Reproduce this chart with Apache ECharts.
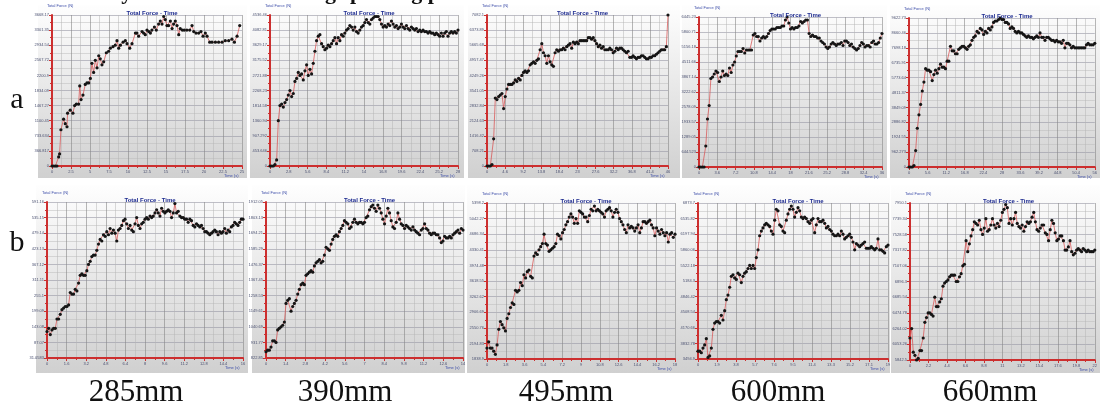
<!DOCTYPE html>
<html><head><meta charset="utf-8">
<script src="https://cdn.jsdelivr.net/npm/echarts@6/dist/echarts.min.js"></script>
<style>html,body{margin:0;padding:0;background:#fff}#c{width:1100px;height:412px}</style>
</head><body><div id="c"></div>
<script>
// ---- DATA (force as % of y-axis range, time as % of x-axis range) ----
const captionText = 'Analysis of the force during spinning process';
const columnLabels = ['285mm','390mm','495mm','600mm','660mm'];
const rowLabels = ['a','b'];

const forceA285 = [[0,0],[0.9,0],[1.8,0],[2.6,0],[3.5,6],[4,8],[4.7,24],[6.1,31],[7,28],[7.9,26],[8.2,35],[9.6,37],[11,35],[11.9,40],[12.8,41],[14,41],[14.6,53],[15.3,44],[16.3,47],[17.5,54],[18.4,55],[19.3,55],[20.2,58],[21,68],[21.9,62],[22.8,70],[23.7,65],[24.6,73],[25.4,71],[26.3,67],[27.2,69],[28.6,75],[29.8,76],[30.7,78],[32.1,79],[33.3,80],[34.2,83],[35.1,78],[36,80],[37.4,82],[38.6,83],[39.5,81],[40.9,78],[42.1,81],[43.9,88],[44.7,88],[45.6,86],[47.4,89],[48.2,88],[49.1,87],[50,90],[51,89],[51.8,88],[52.6,90],[53.9,92],[54.9,90],[56.1,94],[57,96],[57.9,94],[58.8,99],[59.6,97],[60.5,93],[61.4,93],[62.3,96],[63.2,91],[64,94],[64.9,96],[65.8,93],[66.7,87],[67.5,91],[68.6,90],[69.6,90],[71,90],[72.5,90],[73.7,93],[74.6,89],[75.8,88],[77.2,88],[78.4,89],[79.5,86],[80.7,88],[81.6,86],[83,82],[84.2,82],[86,82],[87.7,82],[89.5,82],[91.2,83],[93,83],[94.7,84],[96,82],[97.4,86],[98.8,93]];
const forceA390 = [0,0,0,1,4,30,40,41,39,42,44,47,50,46,48,56,58,62,60,61,57,63,67,60,64,61,68,76,83,86,87,81,79,77,78,80,79,81,83,85,81,85,83,87,86,88,90,91,93,92,90,92,89,88,90,92,93,95,97,95,94,97,98,99,99,99,97,94,92,93,92,94,93,96,94,92,93,91,92,94,92,91,93,91,90,92,91,90,91,89,90,89,90,89,89,88,89,88,88,87,88,87,86,88,86,88,89,86,88,89,88,89,88,90];
const forceA495 = [0,0,0,1,18,45,44,46,47,48,38,46,51,54,54,54,55,57,56,58,57,60,62,63,62,63,67,68,69,68,70,71,77,81,75,73,68,73,69,67,66,75,77,76,77,77,78,77,79,80,81,78,82,81,82,81,83,83,83,83,83,85,85,84,85,83,81,79,80,78,79,77,77,77,78,77,75,76,78,77,78,78,77,76,75,76,72,72,73,72,71,72,72,73,73,72,71,71,72,72,73,73,74,75,76,77,77,77,79,100];
const forceA600 = [0,0,0,0,14,32,41,59,60,62,64,63,57,60,64,61,62,61,66,63,68,70,74,77,77,77,79,76,78,78,78,78,88,89,87,87,84,86,87,86,87,89,91,92,92,92,93,93,93,94,94,98,100,96,92,93,92,93,93,94,97,96,97,98,98,89,87,88,87,87,86,86,84,83,82,80,79,80,82,83,82,81,82,82,83,81,84,84,83,81,82,80,79,78,79,81,83,82,80,81,81,80,83,84,82,82,83,86,89];
const forceA660 = [0,0,0,1,11,26,35,42,51,57,66,65,65,64,58,62,65,63,66,69,67,67,66,71,71,81,78,78,76,76,79,80,81,81,80,79,81,82,85,87,88,91,90,93,92,89,91,90,93,92,94,97,98,98,99,100,99,99,97,97,96,93,94,93,91,90,91,90,90,89,88,87,88,87,87,86,87,88,87,90,87,87,85,87,87,86,85,85,84,85,84,84,83,85,80,83,83,82,80,81,80,80,80,80,80,80,80,82,83,82,82,82,83];
const forceB285 = [17,19,15,18,19,19,25,25,28,31,32,33,33,34,42,41,41,44,43,48,53,54,53,53,56,60,62,65,66,66,69,73,76,75,79,78,81,79,83,80,82,80,75,82,83,85,88,89,86,83,85,82,81,86,90,85,83,86,87,89,90,89,91,90,91,93,95,93,91,96,94,93,94,95,94,90,93,99,93,94,91,90,90,89,89,87,89,88,85,84,86,85,84,85,83,81,81,80,79,80,81,82,81,79,81,80,81,83,80,82,81,84,85,87,86,85,87,89,89];
const forceB390 = [4,5,5,7,11,11,10,18,19,20,21,23,35,37,38,30,33,35,37,41,44,47,48,47,53,54,55,56,55,59,61,62,63,61,62,66,71,70,69,73,76,78,79,78,81,83,85,88,87,86,83,84,87,89,87,86,87,87,86,87,90,91,95,97,98,96,94,98,96,93,89,86,91,96,93,88,84,83,87,93,89,86,85,83,85,84,83,82,84,82,81,80,79,82,83,86,83,82,80,79,80,80,79,79,77,74,75,78,77,77,78,77,79,80,81,82,80,83,82];
const forceB495 = [7,11,7,7,5,3,9,19,24,22,20,18,26,29,33,36,35,44,43,44,49,47,54,52,56,57,53,52,66,68,67,70,72,74,80,74,73,69,70,71,72,74,80,79,77,81,83,86,88,91,93,91,87,90,87,95,94,93,91,91,88,92,96,95,98,95,96,95,94,93,91,95,96,97,95,91,94,96,94,90,88,86,83,81,86,84,85,84,82,84,86,81,84,88,88,87,88,89,86,84,79,84,82,80,83,81,79,81,75,80,81,78,80];
const forceB600 = [5,5,4,7,9,13,1,2,7,19,23,24,24,23,28,25,31,38,41,46,53,54,52,51,55,54,49,53,55,56,58,60,58,60,58,65,70,79,82,84,86,87,86,85,82,80,89,96,95,86,85,82,81,89,93,96,98,96,91,94,97,95,91,90,91,90,88,87,89,90,81,86,90,88,88,89,87,84,85,83,82,80,79,79,80,79,82,80,77,78,79,80,78,75,70,74,73,72,73,74,75,71,71,71,72,71,70,71,77,70,70,69,68,72,73];
const forceB660 = [14,20,5,3,0,1,6,6,14,24,27,30,30,29,28,40,34,34,37,39,47,49,50,51,53,54,54,54,50,50,53,55,60,61,76,69,74,79,83,88,87,86,89,83,80,84,90,82,83,86,90,86,84,87,85,89,94,96,99,97,87,90,86,90,94,87,85,84,86,82,85,88,87,88,91,94,88,83,82,84,86,86,81,80,76,83,89,87,81,76,77,79,79,76,70,70,72,76,69,67,68,70,71,70,69,71,70,69,70,69,69,69,70];

const yTicksA285 = ['0','366.817','733.634','1100.45','1467.27','1834.09','2200.9','2567.72','2934.54','3301.35','3668.17'];
const yTicksA390 = ['0','453.646','907.292','1360.94','1814.58','2268.23','2721.88','3175.52','3629.17','4082.81','4536.46'];
const yTicksA495 = ['0','708.21','1416.42','2124.63','2832.84','3541.05','4249.26','4957.47','5665.68','6373.89','7082.1'];
const yTicksA600 = ['0','644.523','1289.05','1933.57','2578.09','3222.62','3867.14','4511.66','5156.18','5800.71','6445.23'];
const yTicksA660 = ['0','962.273','1924.55','2886.82','3849.09','4811.37','5773.64','6735.91','7698.18','8660.46','9622.73'];
const yTicksB285 = ['31.0583','87.07','143.08','199.09','255.1','311.11','367.12','423.13','479.14','535.15','591.16'];
const yTicksB390 = ['822.85','931.77','1040.69','1149.61','1258.53','1367.45','1476.37','1585.29','1694.21','1803.13','1912.05'];
const yTicksB495 = ['1838.9','2194.83','2550.76','2906.69','3262.62','3618.55','3974.48','4330.41','4686.34','5042.27','5398.2'];
const yTicksB600 = ['3494.9','3832.78','4170.66','4508.54','4846.42','5184.3','5522.18','5860.06','6197.94','6535.82','6873.7'];
const yTicksB660 = ['5842.5','6053.26','6264.02','6474.78','6685.54','6896.3','7107.06','7317.82','7528.58','7739.34','7950.1'];

const xTicksA285 = ['0','2.5','5','7.5','10','12.5','15','17.5','20','22.5','25'];
const xTicksA390 = ['0','2.8','5.6','8.4','11.2','14','16.8','19.6','22.4','25.2','28'];
const xTicksA495 = ['0','4.6','9.2','13.8','18.4','23','27.6','32.2','36.8','41.4','46'];
const xTicksA600 = ['0','3.6','7.2','10.8','14.4','18','21.6','25.2','28.8','32.4','36'];
const xTicksA660 = ['0','5.6','11.2','16.8','22.4','28','33.6','39.2','44.8','50.4','56'];
const xTicksB285 = ['0','1.6','3.2','4.8','6.4','8','9.6','11.2','12.8','14.4','16'];
const xTicksB390 = ['0','1.4','2.8','4.2','5.6','7','8.4','9.8','11.2','12.6','14'];
const xTicksB495 = ['0','1.8','3.6','5.4','7.2','9','10.8','12.6','14.4','16.2','18'];
const xTicksB600 = ['0','1.9','3.8','5.7','7.6','9.5','11.4','13.3','15.2','17.1','19'];
const xTicksB660 = ['0','2.2','4.4','6.6','8.8','11','13.2','15.4','17.6','19.8','22'];

const panels = [
  {force: forceA285, yT: yTicksA285, xT: xTicksA285},
  {force: forceA390, yT: yTicksA390, xT: xTicksA390},
  {force: forceA495, yT: yTicksA495, xT: xTicksA495},
  {force: forceA600, yT: yTicksA600, xT: xTicksA600},
  {force: forceA660, yT: yTicksA660, xT: xTicksA660},
  {force: forceB285, yT: yTicksB285, xT: xTicksB285},
  {force: forceB390, yT: yTicksB390, xT: xTicksB390},
  {force: forceB495, yT: yTicksB495, xT: xTicksB495},
  {force: forceB600, yT: yTicksB600, xT: xTicksB600},
  {force: forceB660, yT: yTicksB660, xT: xTicksB660}
];

// ---- LAYOUT (pixels) ----
const cards = [[38,5,209,173],[250,5,214,173],[468,5,212,173],[682,5,205,173],[890,5,210,173],
               [36,185,212,188],[252,185,213,188],[467,185,214,188],[679,185,211,188],[891,185,209,188]];
const plots = [[52,15,190,151],[270,15,188,151],[487,15,181,151],[699,17,183,150],[909,18,186,149],
               [47,202,196,156],[266,202,197,156],[487,203,188,156],[698,203,190,156],[910,203,187,157]];
const colCenters = [136,345,566,778,990];

const RED = '#cc2f2f';
const grid = [], xAxis = [], yAxis = [], series = [], title = [], graphic = [];

cards.forEach((c) => {
  graphic.push({type:'rect', z:-100, shape:{x:c[0], y:c[1], width:c[2], height:c[3]},
    style:{fill:new echarts.graphic.LinearGradient(0,0,0,1,[{offset:0,color:'#fefefe'},{offset:1,color:'#d0d0d0'}])}, silent:true});
});

panels.forEach((p, i) => {
  const g = plots[i];
  grid.push({left:g[0], top:g[1], width:g[2], height:g[3], containLabel:false});
  xAxis.push({type:'value', gridIndex:i, min:0, max:100, interval:10,
    axisLine:{show:true, onZero:false, lineStyle:{color:RED, width:2}},
    axisTick:{show:true, length:3, lineStyle:{color:RED, width:1}},
    minorTick:{show:true, splitNumber:2, length:2, lineStyle:{color:RED}},
    splitLine:{show:true, lineStyle:{color:'#868686', width:0.6}},
    minorSplitLine:{show:true, lineStyle:{color:'#b4b4b4', width:0.5}},
    axisLabel:{fontSize:4, color:'#4a5070', margin:4, fontFamily:'Liberation Sans',
      formatter:(v) => p.xT[Math.round(v/10)]}
  });
  yAxis.push({type:'value', gridIndex:i, min:0, max:100, interval:10,
    axisLine:{show:true, onZero:false, lineStyle:{color:RED, width:2}},
    axisTick:{show:true, length:3, lineStyle:{color:RED, width:1}},
    minorTick:{show:true, splitNumber:2, length:2, lineStyle:{color:RED}},
    splitLine:{show:true, lineStyle:{color:'#9797a4', width:0.6}},
    minorSplitLine:{show:true, lineStyle:{color:'#bbbbbb', width:0.5}},
    axisLabel:{fontSize:4, color:'#4a5070', margin:3, fontFamily:'Liberation Sans',
      formatter:(v) => p.yT[Math.round(v/10)]}
  });
  const d = p.force;
  const pts = Array.isArray(d[0]) ? d : d.map((v, k) => [k * 100 / (d.length - 1), v]);
  series.push({type:'line', xAxisIndex:i, yAxisIndex:i, data:pts, symbol:'circle', symbolSize:3.2,
    showSymbol:true, itemStyle:{color:'#151515'}, lineStyle:{color:'#d85a5a', width:0.8},
    animation:false, silent:true});
  title.push({text:'Total Force - Time', left:g[0] + g[2]/2, top:g[1] - 10, textAlign:'center',
    textStyle:{fontSize:6, fontWeight:'bold', color:'#1d2b8f', fontFamily:'Liberation Sans'}});
  graphic.push({type:'text', left:g[0] - 5, top:g[1] - 11, style:{text:'Total Force (N)', fontSize:4,
    fill:'#3b4ca8', fontFamily:'Liberation Sans'}, silent:true});
  graphic.push({type:'text', left:g[0] + g[2] - 18, top:g[1] + g[3] + 8, style:{text:'Time (s)', fontSize:4,
    fill:'#3b4ca8', fontFamily:'Liberation Sans'}, silent:true});
});

// cut-off caption at the very top (only the lower part of its glyphs is visible)
graphic.push({type:'text', x:76, y:4, z:50, style:{text:captionText, fontSize:22, fontWeight:'bold',
  fill:'#111', fontFamily:'Liberation Serif', textAlign:'left', textVerticalAlign:'bottom'}, silent:true});

columnLabels.forEach((t, k) => {
  graphic.push({type:'text', x:colCenters[k], y:393, style:{text:t, fontSize:31, fill:'#111',
    fontFamily:'Liberation Serif', textAlign:'center', textVerticalAlign:'middle'}, silent:true});
});
graphic.push({type:'text', x:17, y:100, style:{text:rowLabels[0], fontSize:30, fill:'#111',
  fontFamily:'Liberation Serif', textAlign:'center', textVerticalAlign:'middle'}, silent:true});
graphic.push({type:'text', x:17, y:243, style:{text:rowLabels[1], fontSize:30, fill:'#111',
  fontFamily:'Liberation Serif', textAlign:'center', textVerticalAlign:'middle'}, silent:true});

const chart = echarts.init(document.getElementById('c'), null, {renderer:'canvas'});
chart.setOption({animation:false, backgroundColor:'#fff', title, grid, xAxis, yAxis, series, graphic});
</script>
</body></html>
